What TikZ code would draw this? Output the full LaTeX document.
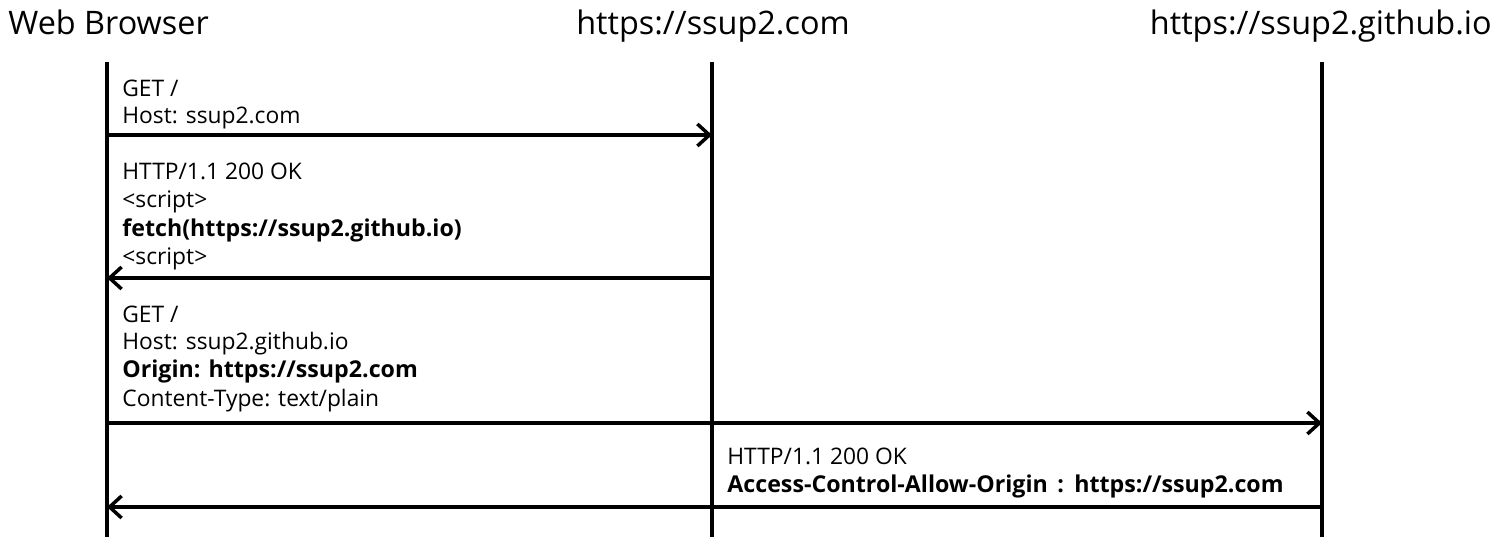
\documentclass[tikz,border=0pt]{standalone}
\usepackage{fontspec}
\setmainfont{Open Sans}
\usetikzlibrary{arrows.meta}
\begin{document}
\begin{tikzpicture}[x=0.5pt,y=-0.5pt,
  life/.style={line width=1.75pt},
  msg/.style={line width=1.75pt,-{Straight Barb[length=6pt,width=11pt,line width=1.75pt]}},
  title/.style={font=\fontsize{16.2}{19}\selectfont,inner sep=0pt},
  lbl/.style={font=\fontsize{11.4}{13}\selectfont,inner sep=0pt,anchor=base west},
  lblb/.style={lbl,font=\fontsize{11.6}{13}\selectfont\bfseries}]
\useasboundingbox (0,0) rectangle (1499,550);
% titles
\node[title,anchor=base west] (t1) at (8,35) {Web Browser};
\node[title,anchor=base] (t2) at (713,35) {https://ssup2.com};
\node[title,anchor=base east] (t3) at (1492,35) {https://ssup2.github.io};
% lifelines
\coordinate (a0) at (107,62); \coordinate (a1) at (107,537);
\coordinate (b0) at (712,62); \coordinate (b1) at (712,537);
\coordinate (c0) at (1322,62); \coordinate (c1) at (1322,537);
\draw[life] (a0) -- (a1);
\draw[life] (b0) -- (b1);
\draw[life] (c0) -- (c1);
% message points
\coordinate (m1s) at (107,135); \coordinate (m1e) at (712,135);
\coordinate (m2s) at (712,278); \coordinate (m2e) at (107,278);
\coordinate (m3s) at (107,423); \coordinate (m3e) at (1322,423);
\coordinate (m4s) at (1322,507); \coordinate (m4e) at (107,507);
\draw[msg] (m1s) -- (m1e);
\draw[msg] (m2s) -- (m2e);
\draw[msg] (m3s) -- (m3e);
\draw[msg] (m4s) -- (m4e);
% labels
\node[lbl] (l1a) at (122,97) {GET /};
\node[lbl] (l1b) at (122,124) {Host: ssup2.com};
\node[lbl] (l2a) at (122,180) {HTTP/1.1 200 OK};
\node[lbl] (l2b) at (122,208) {<script>};
\node[lblb] (l2c) at (122,237) {fetch(https://ssup2.github.io)};
\node[lbl] (l2d) at (122,265) {<script>};
\node[lbl] (l3a) at (122,323) {GET /};
\node[lbl] (l3b) at (122,350) {Host: ssup2.github.io};
\node[lblb] (l3c) at (122,378) {Origin: https://ssup2.com};
\node[lbl] (l3d) at (122,407) {Content-Type: text/plain};
\node[lbl] (l4a) at (727,465) {HTTP/1.1 200 OK};
\node[lblb] (l4b) at (727,493) {Access-Control-Allow-Origin\hspace{0.15em} : \hspace{0.1em}https://ssup2.com};
\end{tikzpicture}
\end{document}
